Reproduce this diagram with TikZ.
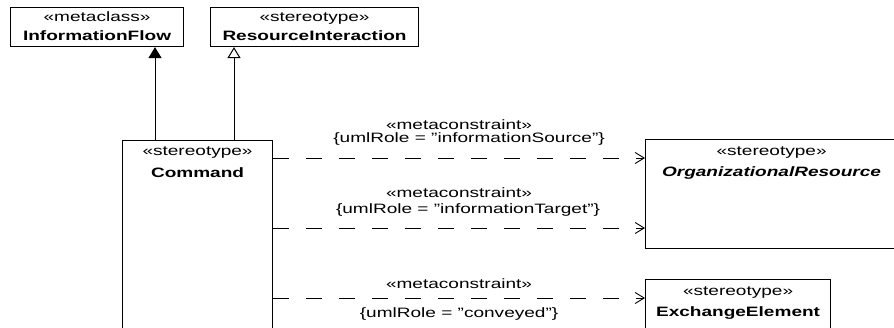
\documentclass[tikz,border=0pt]{standalone}
\usepackage{fontspec}
\setmainfont{Liberation Sans}[FakeStretch=1.4]
\usetikzlibrary{arrows.meta,positioning,calc}

\tikzset{
  umlbox/.style={draw=black,line width=1.1pt,anchor=north west,inner sep=0pt},
  stereo/.style={anchor=base,inner sep=0pt,font=\fontsize{13.6}{16}\selectfont},
  clsname/.style={anchor=base,inner sep=0pt,font=\fontsize{13.6}{16}\selectfont\bfseries},
  conlabel/.style={anchor=base,inner sep=0pt,font=\fontsize{13.6}{16}\selectfont},
  extarrow/.style={line width=1pt,-{Triangle[width=13pt,length=11pt]}},
  genarrow/.style={line width=1pt,-{Triangle[open,width=13pt,length=11pt,fill=white]}},
  deparrow/.style={line width=0.9pt,dash pattern=on 16pt off 17pt,-{Straight Barb[length=9pt,width=11pt]}}
}

\begin{document}
\begin{tikzpicture}[x=1pt,y=-1pt]
\useasboundingbox (0,0) rectangle (894,327);

% boxes
\node[umlbox,minimum width=173pt,minimum height=39pt] (flow) at (10,7) {};
\node[umlbox,minimum width=208pt,minimum height=39pt] (resint) at (210,7) {};
\node[umlbox,minimum width=150pt,minimum height=220pt] (cmd) at (122,140) {};
\node[umlbox,minimum width=252pt,minimum height=109pt] (orgres) at (645,139) {};
\node[umlbox,minimum width=185pt,minimum height=80pt] (exch) at (645,279) {};

% box texts
\node[stereo] (flowst) at ($(flow.north)+(0,14)$) {«metaclass»};
\node[clsname] (flownm) at ($(flow.north)+(0,33)$) {InformationFlow};
\node[stereo] (resintst) at ($(resint.north)+(0,14)$) {«stereotype»};
\node[clsname] (resintnm) at ($(resint.north)+(0,33)$) {ResourceInteraction};
\node[stereo] (cmdst) at ($(cmd.north)+(0,15)$) {«stereotype»};
\node[clsname] (cmdnm) at ($(cmd.north)+(0,37)$) {Command};
\node[stereo] (orgresst) at ($(orgres.north)+(0,16)$) {«stereotype»};
\node[clsname] (orgresnm) at ($(orgres.north)+(0,37)$) {\itshape OrganizationalResource};
\node[stereo] (exchst) at ($(exch.north)+(0,16)$) {«stereotype»};
\node[clsname] (exchnm) at ($(exch.north)+(0,37)$) {ExchangeElement};

% extension and generalization
\coordinate (ext) at ($(cmd.north west)+(33,0)$);
\coordinate (gen) at ($(cmd.north west)+(112,0)$);
\draw[extarrow] (ext) -- (ext |- flow.south);
\draw[genarrow] (gen) -- (gen |- resint.south);

% metaconstraints
\coordinate (src) at ($(cmd.north east)+(0,18)$);
\coordinate (tgt) at ($(cmd.north east)+(0,88)$);
\coordinate (cnv) at ($(cmd.north east)+(0,158)$);
\draw[deparrow] (src) -- (src -| orgres.west)
  node[conlabel,midway,yshift=29pt] (srcmc) {«metaconstraint»}
  node[conlabel,midway,yshift=16pt,xshift=10pt] (srcrole) {\{umlRole = "informationSource"\}};
\draw[deparrow] (tgt) -- (tgt -| orgres.west)
  node[conlabel,midway,yshift=31pt] (tgtmc) {«metaconstraint»}
  node[conlabel,midway,yshift=15pt,xshift=9pt] (tgtrole) {\{umlRole = "informationTarget"\}};
\draw[deparrow] (cnv) -- (cnv -| exch.west)
  node[conlabel,midway,yshift=10pt] (cnvmc) {«metaconstraint»}
  node[conlabel,midway,yshift=-19pt] (cnvrole) {\{umlRole = "conveyed"\}};
\end{tikzpicture}
\end{document}
